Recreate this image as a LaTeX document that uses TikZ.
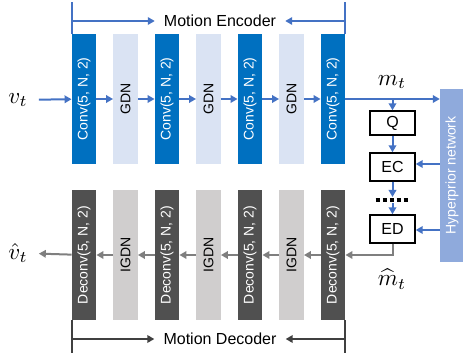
\documentclass[tikz,border=0pt]{standalone}
\usepackage{fontspec}
\setmainfont{Liberation Sans}
\usetikzlibrary{arrows.meta,positioning}
\definecolor{convblue}{HTML}{0070C0}
\definecolor{gdnblue}{HTML}{DAE3F3}
\definecolor{deconvgray}{HTML}{505050}
\definecolor{igdngray}{HTML}{D0CECE}
\definecolor{hyperblue}{HTML}{8FAADC}
\definecolor{flowblue}{HTML}{4472C4}
\definecolor{flowgray}{HTML}{7F7F7F}
\definecolor{bracegray}{HTML}{404040}

\begin{document}
\begin{tikzpicture}[x=1pt,y=-1pt,
  blk/.style={minimum width=24.5pt,minimum height=130pt,inner sep=0pt,
    font=\fontsize{14}{16}\selectfont},
  conv/.style={blk,fill=convblue,text=white},
  gdn/.style={blk,fill=gdnblue,text=black},
  deconv/.style={blk,fill=deconvgray,text=white},
  igdn/.style={blk,fill=igdngray,text=black},
  codec/.style={draw=black,line width=1.4pt,minimum width=45pt,inner sep=0pt,
    font=\fontsize{16}{18}\selectfont},
  sym/.style={inner sep=1pt},
  title/.style={font=\fontsize{16}{18}\selectfont,inner xsep=9pt,inner ysep=0pt},
  tip/.style={-{Triangle[length=7pt,width=7.5pt]}},
  encarrow/.style={tip,draw=flowblue,line width=2pt},
  decarrow/.style={tip,draw=flowgray,line width=2pt},
  encbrace/.style={draw=flowblue,line width=2pt},
  decbrace/.style={draw=bracegray,line width=2pt}]
  \useasboundingbox (0,0) rectangle (463,358);
  \def\ytop{99}
  \def\ybot{255}

  % Encoder row on top, decoder row below, same columns.
  \foreach \i/\xx/\ek/\el/\dk/\dl in {
    1/84/conv/{Conv(5, N, 2)}/deconv/{Deconv(5, N, 2)},
    2/125.5/gdn/GDN/igdn/IGDN,
    3/167/conv/{Conv(5, N, 2)}/deconv/{Deconv(5, N, 2)},
    4/208.5/gdn/GDN/igdn/IGDN,
    5/250/conv/{Conv(5, N, 2)}/deconv/{Deconv(5, N, 2)},
    6/291.5/gdn/GDN/igdn/IGDN,
    7/333/conv/{Conv(5, N, 2)}/deconv/{Deconv(5, N, 2)}}{
    \node[\ek] (enc\i) at (\xx,\ytop) {\rotatebox{90}{\el}};
    \node[\dk] (dec\i) at (\xx,\ybot) {\rotatebox{90}{\dl}};
  }
  \foreach \i [evaluate=\i as \j using int(\i+1)] in {1,...,6}{
    \draw[encarrow] (enc\i) -- (enc\j);
    \draw[decarrow] (dec\j) -- (dec\i);
  }

  % Inputs and outputs.
  \node[sym] (vt) at (18,100) {\scalebox{2.3}{$v_t$}};
  \node[sym] (vhat) at (18,253) {\scalebox{2.3}{$\hat{v}_t$}};
  \draw[encarrow,shorten <=10pt] (vt) -- (enc1);
  \draw[decarrow,shorten >=10pt] (dec1) -- (vhat);

  % Hyperprior and entropy coding.
  \node[fill=hyperblue,text=white,minimum width=24pt,minimum height=173pt,
        inner sep=0pt,font=\fontsize{14}{16}\selectfont]
    (hyper) at (452,175.5) {\rotatebox{90}{Hyperprior network}};
  \node[codec,minimum height=24pt] (q) at (392.5,123) {Q};
  \node[codec,minimum height=28pt] (ec) at (392.5,167) {EC};
  \node[codec,minimum height=28pt] (ed) at (392.5,229) {ED};
  \coordinate (bits) at (392.5,200);
  \node[sym] (mt) at (392,82) {\scalebox{2.3}{$m_t$}};
  \node[sym] (mhat) at (392,279) {\scalebox{2.3}{$\widehat{m}_t$}};

  \draw[encarrow] (enc7) -- (enc7 -| hyper.west);
  \draw[encarrow] (q.north |- enc7) -- (q.north);
  \draw[encarrow] (q) -- (ec);
  \draw[encarrow,shorten >=3pt] (ec) -- (bits);
  \draw[encarrow,shorten <=3pt] (bits) -- (ed);
  \draw[line width=4pt,dash pattern=on 4.6pt off 2.4pt]
    ([xshift=-17pt]bits) -- ([xshift=17pt]bits);
  \draw[encarrow] (hyper.west |- 0,164) -- (ec.east |- 0,164);
  \draw[encarrow] (hyper.west |- 0,230) -- (ed.east |- 0,230);
  \draw[decarrow] (ed.south) |- (dec7);

  % Brackets with titles.
  \node[title] (enctitle) at (220,21) {Motion Encoder};
  \node[title] (dectitle) at (220,339) {Motion Decoder};
  \draw[encbrace] (enc1.north west) -- (enc1.west |- 0,2);
  \draw[encbrace] (enc7.north east) -- (enc7.east |- 0,2);
  \draw[encarrow] (enc1.west |- enctitle) -- (enctitle.west);
  \draw[encarrow] (enc7.east |- enctitle) -- (enctitle.east);
  \draw[decbrace] (dec1.south west) -- (dec1.west |- 0,353);
  \draw[decbrace] (dec7.south east) -- (dec7.east |- 0,353);
  \draw[decarrow,draw=bracegray] (dec1.west |- dectitle) -- (dectitle.west);
  \draw[decarrow,draw=bracegray] (dec7.east |- dectitle) -- (dectitle.east);
\end{tikzpicture}
\end{document}
